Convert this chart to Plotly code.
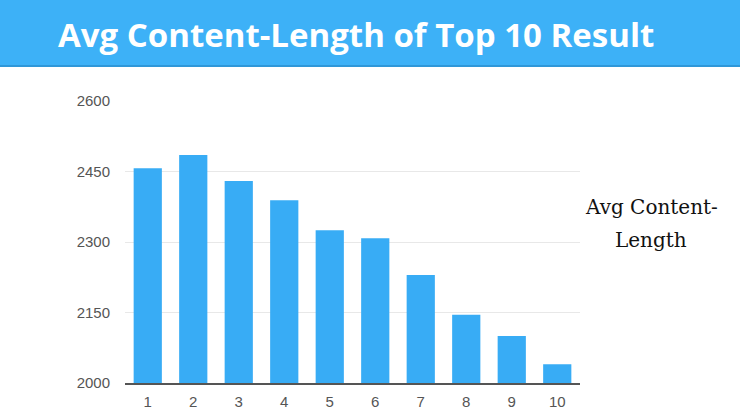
import plotly.graph_objects as go

categories = ["1", "2", "3", "4", "5", "6", "7", "8", "9", "10"]
avg_length = [2457, 2485, 2430, 2389, 2325, 2308, 2230, 2145, 2100, 2040]
y_ticks = [2000, 2150, 2300, 2450, 2600]
title_text = "Avg Content-Length of Top 10 Result"
legend_lines = ["Avg Content-", "Length"]

W, H = 740, 416
L, R, T, B = 125, 160, 101, 33
pw, ph = W - L - R, H - T - B

def px_x(x):
    return (x - L) / pw

def px_y(y):
    return 1 - (y - T) / ph

fig = go.Figure(go.Bar(
    x=categories, y=avg_length,
    marker=dict(color="#38acf5", line=dict(width=0)),
    width=0.62,
    showlegend=False,
))

fig.update_layout(
    width=W, height=H,
    margin=dict(l=L, r=R, t=T, b=B),
    paper_bgcolor="white", plot_bgcolor="white",
    xaxis=dict(type="category", showgrid=False, showline=True, linecolor="#555555",
               linewidth=2, ticks="", automargin=False,
               tickfont=dict(family="Liberation Sans", size=15, color="#555555"),
               ticklabelstandoff=4),
    yaxis=dict(range=[2000, 2600], tickvals=y_ticks, showgrid=True, gridcolor="#e8e8e8",
               gridwidth=1, zeroline=False, showline=False, ticks="", automargin=False,
               tickfont=dict(family="Liberation Sans", size=15, color="#555555"),
               ticklabelstandoff=14),
    shapes=[
        dict(type="rect", xref="paper", yref="paper", x0=px_x(0), x1=px_x(W),
             y0=px_y(66), y1=px_y(0), fillcolor="#3db1f7", line=dict(width=0), layer="above"),
        dict(type="line", xref="paper", yref="paper", x0=px_x(0), x1=px_x(W),
             y0=px_y(66), y1=px_y(66), line=dict(color="#2f97d8", width=2), layer="above"),
    ],
    annotations=[
        dict(text="<b>" + title_text + "</b>", xref="paper", yref="paper",
             x=px_x(356), y=px_y(34), showarrow=False, xanchor="center", yanchor="middle",
             font=dict(family="Open Sans", size=33, color="white", weight=800)),
        dict(text=legend_lines[0], xref="paper", yref="paper",
             x=px_x(651), y=px_y(207), showarrow=False, xanchor="center", yanchor="middle",
             font=dict(family="DejaVu Serif", size=20, color="#111111")),
        dict(text=legend_lines[1], xref="paper", yref="paper",
             x=px_x(651), y=px_y(240), showarrow=False, xanchor="center", yanchor="middle",
             font=dict(family="DejaVu Serif", size=20, color="#111111")),
    ],
)

fig.write_html("out.html", config={"displayModeBar": False},
               post_script="document.body.style.margin='0';document.body.style.overflow='hidden';")
